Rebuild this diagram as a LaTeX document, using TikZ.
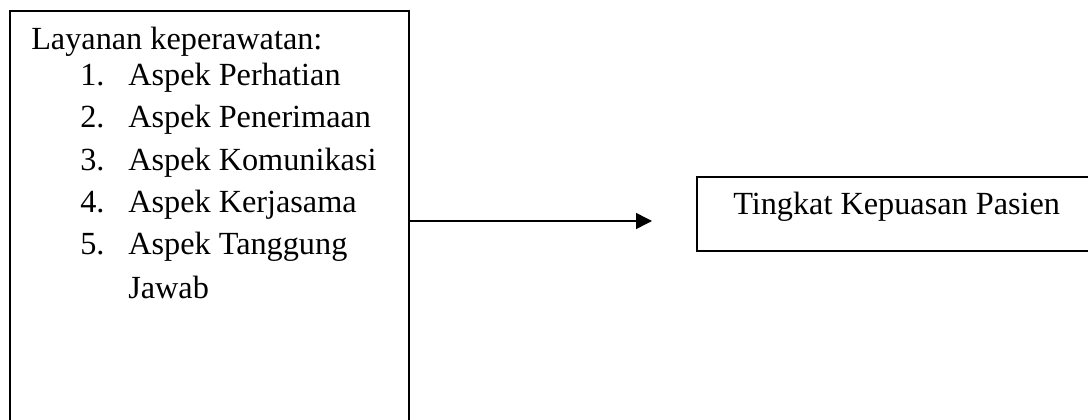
\documentclass[tikz,border=0pt]{standalone}
\usepackage{fontspec}
\setmainfont{Liberation Serif}
\usetikzlibrary{arrows.meta}
\begin{document}
\begin{tikzpicture}[x=0.75pt,y=-0.75pt,
  box/.style={draw=black,line width=1.5pt,rectangle,anchor=north west,inner sep=0pt,outer sep=0pt},
  txt/.style={anchor=base west,inner sep=0pt,font=\fontsize{24.2pt}{29pt}\selectfont},
  conn/.style={draw=black,line width=1.1pt,-{Triangle[length=12pt,width=12pt]}}]
\useasboundingbox (0,0) rectangle (1088,420);
\clip (0,0) rectangle (1088,420);
\node[box,minimum width=299.25pt,minimum height=321.75pt] (lbox) at (10,11) {};
\node[box,minimum width=330pt,minimum height=55.5pt] (rbox) at (697,177) {};
\node[txt] (head) at (31,50) {Layanan keperawatan:};
\node[txt] (n1) at (80,86) {1.};
\node[txt] (t1) at (128,86) {Aspek Perhatian};
\node[txt] (n2) at (80,128) {2.};
\node[txt] (t2) at (128,128) {Aspek Penerimaan};
\node[txt] (n3) at (80,171) {3.};
\node[txt] (t3) at (128,171) {Aspek Komunikasi};
\node[txt] (n4) at (80,213) {4.};
\node[txt] (t4) at (128,213) {Aspek Kerjasama};
\node[txt] (n5) at (80,255) {5.};
\node[txt] (t5) at (128,255) {Aspek Tanggung};
\node[txt] (t5b) at (128,298) {Jawab};
\node[txt] (rt) at (733,215) {Tingkat Kepuasan Pasien};
\coordinate (as) at (lbox.north east |- 0,221);
\coordinate (ae) at (652,221);
\draw[conn] (as) -- (ae);
\end{tikzpicture}
\end{document}
